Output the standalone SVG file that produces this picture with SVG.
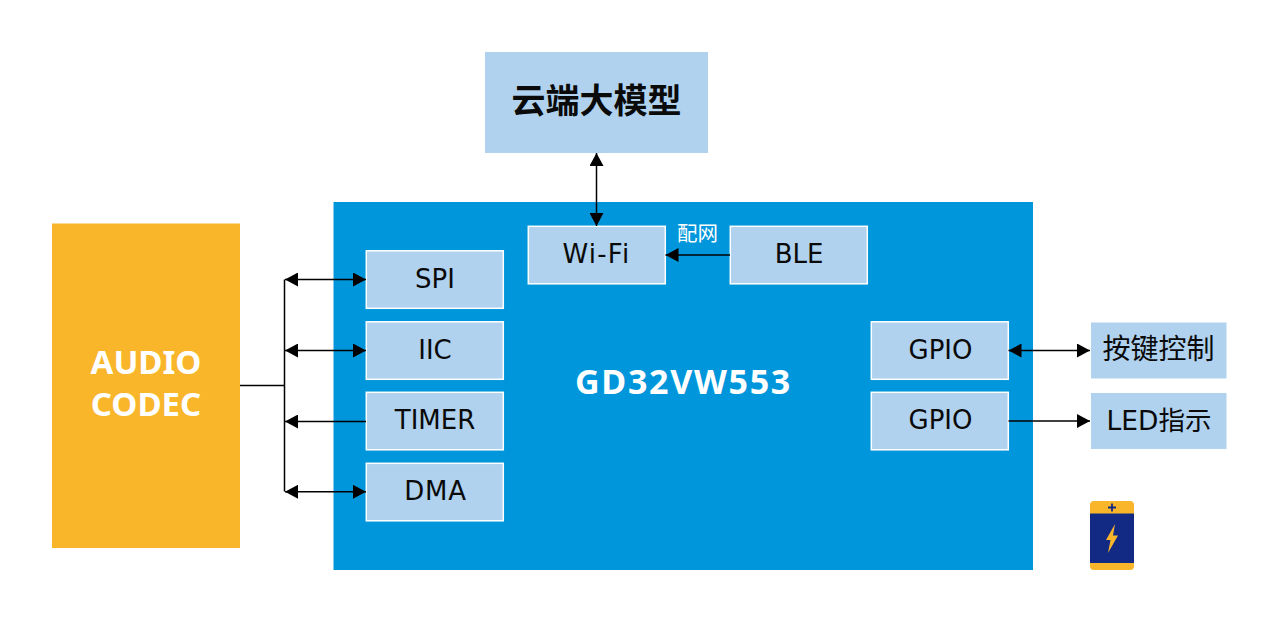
<svg xmlns="http://www.w3.org/2000/svg" width="1280" height="621" viewBox="0 0 1280 621">
<style>
text{font-family:"Noto Sans","Noto Sans CJK SC",sans-serif;text-anchor:middle;fill:#0a0a0a}
.b{fill:#b0d2ef;stroke:#fff;stroke-width:1.5}
.p{fill:#b0d2ef}
.t{font-size:26px;font-family:"DejaVu Sans",sans-serif}
.w{fill:#fff;font-weight:700}
.c{stroke:#000;stroke-width:1.5;fill:none}
</style>
<defs>
<marker id="a" markerUnits="userSpaceOnUse" markerWidth="14" markerHeight="14" refX="13" refY="7" orient="auto-start-reverse"><path d="M0 0L13 7L0 14Z" fill="#000"/></marker>
</defs>
<rect width="1280" height="621" fill="#fff"/>
<g id="cloud"><rect class="p" x="485" y="52" width="223" height="101"/><text x="596.500" y="113" font-size="34" font-weight="700" style="font-family:'Noto Sans CJK SC',sans-serif">云端大模型</text></g>
<g id="chip"><rect x="333.500" y="202" width="699.500" height="368" fill="#0096db"/><text class="w" x="683.500" y="394" font-size="34" letter-spacing="1.700" style="fill:#fff">GD32VW553</text></g>
<g id="codec"><rect x="52" y="223.500" width="188" height="324.500" fill="#f9b62a"/><text class="w" x="146" y="374" font-size="33" style="fill:#fff">AUDIO</text><text class="w" x="146" y="416" font-size="33" style="fill:#fff">CODEC</text></g>
<g id="spi"><rect class="b" x="366.300" y="250.800" width="137" height="57.500"/><text class="t" x="435" y="288">SPI</text></g>
<g id="iic"><rect class="b" x="366.300" y="321.800" width="137" height="57.500"/><text class="t" x="435" y="358.500">IIC</text></g>
<g id="timer"><rect class="b" x="366.300" y="392.300" width="137" height="57.500"/><text class="t" x="435" y="429">TIMER</text></g>
<g id="dma"><rect class="b" x="366.300" y="463.300" width="137" height="57.500"/><text class="t" x="435.500" y="500" letter-spacing=".8">DMA</text></g>
<g id="wifi"><rect class="b" x="528.300" y="226.300" width="137" height="57.500"/><text class="t" x="596.500" y="263" letter-spacing="1.200">Wi-Fi</text></g>
<g id="ble"><rect class="b" x="730.300" y="226.300" width="137" height="57.500"/><text class="t" x="799" y="263">BLE</text></g>
<g id="gpio1"><rect class="b" x="871.300" y="321.800" width="137" height="57.500"/><text class="t" x="940.500" y="358.500">GPIO</text></g>
<g id="gpio2"><rect class="b" x="871.300" y="392.300" width="137" height="57.500"/><text class="t" x="940.500" y="429">GPIO</text></g>
<g id="keys"><rect class="p" x="1091" y="322.500" width="135.500" height="56"/><text x="1158.500" y="359" font-size="28" style="font-family:'Noto Sans CJK SC',sans-serif">按键控制</text></g>
<g id="led"><rect class="p" x="1091" y="393" width="135.500" height="56"/><text x="1159" y="429.500" font-size="26.500" style="font-family:'DejaVu Sans','Noto Sans CJK SC',sans-serif">LED指示</text></g>
<g id="connectors">
<path class="c" d="M240 385.500H284.500M284.500 279.500V491.500"/>
<path class="c" d="M285 279.500H366" marker-start="url(#a)" marker-end="url(#a)"/>
<path class="c" d="M285 350.500H366" marker-start="url(#a)" marker-end="url(#a)"/>
<path class="c" d="M366 421.500H285" marker-end="url(#a)"/>
<path class="c" d="M285 491.800H366" marker-start="url(#a)" marker-end="url(#a)"/>
<path class="c" d="M596.500 153V226" marker-start="url(#a)" marker-end="url(#a)"/>
<path class="c" d="M730 255H665.500" marker-end="url(#a)"/>
<path class="c" d="M1008.500 350.500H1090" marker-start="url(#a)" marker-end="url(#a)"/>
<path class="c" d="M1008.500 421H1090" marker-end="url(#a)"/>
</g>
<text x="697.500" y="240.500" font-size="20.500" style="fill:#fff;font-family:'Noto Sans CJK SC',sans-serif">配网</text>
<g id="battery">
<rect x="1090" y="501" width="44" height="69" rx="4" fill="#f9b62a"/>
<rect x="1090" y="513.500" width="44" height="49.500" fill="#132a85"/>
<path d="M1108 507.500h8M1112 503.500v8" stroke="#132a85" stroke-width="1.800" fill="none"/>
<path d="M1115 524L1106 540H1110.500L1108 553L1118 535.500H1113Z" fill="#f9b62a"/>
</g>
</svg>
